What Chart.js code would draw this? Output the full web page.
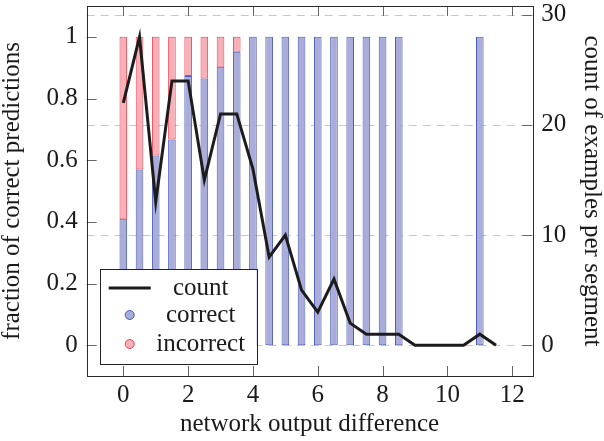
<!DOCTYPE html>
<html>
<head>
<meta charset="utf-8">
<script src="https://cdn.jsdelivr.net/npm/chart.js@4/dist/chart.umd.min.js"></script>
<style>
  html, body { margin: 0; padding: 0; background: #fff; }
  #wrap { width: 604px; height: 441px; position: relative; }
</style>
</head>
<body>
<div id="wrap"><canvas id="chart"></canvas></div>
<script>
// ── Data ──────────────────────────────────────────────────────
const binX          = [0, 0.5, 1, 1.5, 2, 2.5, 3, 3.5, 4, 4.5, 5, 5.5, 6, 6.5, 7, 7.5, 8, 8.5, 11];
const correctFrac   = [0.41, 0.57, 0.615, 0.667, 0.873, 0.865, 0.903, 0.952, 1, 1, 1, 1, 1, 1, 1, 1, 1, 1, 1];
const incorrectFrac = [0.59, 0.43, 0.385, 0.333, 0.127, 0.135, 0.097, 0.048, 0, 0, 0, 0, 0, 0, 0, 0, 0, 0, 0];

const countX = [0, 0.5, 1, 1.5, 2, 2.5, 3, 3.5, 4, 4.5, 5, 5.5, 6, 6.5, 7, 7.5, 8, 8.5, 9, 9.5, 10, 10.5, 11, 11.5];
const counts = [22, 28, 13, 24, 24, 15, 21, 21, 16, 8, 10, 5, 3, 6, 2, 1, 1, 1, 0, 0, 0, 0, 1, 0];

const xTicks       = [0, 2, 4, 6, 8, 10, 12];
const xTickLabels  = ["0", "2", "4", "6", "8", "10", "12"];
const yTicks       = [0, 0.2, 0.4, 0.6, 0.8, 1];
const yTickLabels  = ["0", "0.2", "0.4", "0.6", "0.8", "1"];
const y1Ticks      = [0, 10, 20, 30];
const y1TickLabels = ["0", "10", "20", "30"];

const legendLabels = ["count", "correct", "incorrect"];

// ── Styles ────────────────────────────────────────────────────
const FONT     = "'Liberation Serif', 'Times New Roman', serif";
const BLUE     = "#4a5cb8", BLUE_FILL = "#aaacd9";
const RED      = "#f04050", RED_FILL  = "#f8b0b8";
const LINE_CLR = "#1c1c1c";
const TICK_LEN = 10;

const pts = (xs, ys) => xs.map((x, i) => ({ x, y: ys[i] })).filter((p) => p.y > 0);

// fixed box sizes so the plot area lands where the reference has it
const fixBox = (size) => (scale) => {
  if (scale.isHorizontal()) scale.height = size; else scale.width = size;
  scale.paddingTop = scale.paddingBottom = scale.paddingLeft = scale.paddingRight = 0;
};
const setTicks = (vals) => (scale) => { scale.ticks = vals.map((v) => ({ value: v })); };

// ── Frame, inward tick marks, dashed grid, legend ─────────────
const framePlugin = {
  id: "frame",
  beforeDatasetsDraw(chart) {
    const { ctx, chartArea: a, scales } = chart;
    ctx.save();
    ctx.strokeStyle = "#c8c8c8";
    ctx.lineWidth = 1;
    ctx.setLineDash([8, 6]);
    y1Ticks.forEach((v) => {
      const y = Math.round(scales.y1.getPixelForValue(v)) + 0.5;
      ctx.beginPath(); ctx.moveTo(a.left, y); ctx.lineTo(a.right, y); ctx.stroke();
    });
    ctx.restore();
  },
  afterDatasetsDraw(chart) {
    const { ctx, chartArea: a, scales } = chart;
    ctx.save();
    ctx.lineWidth = 1;
    ctx.strokeStyle = "#666";
    ctx.beginPath();
    xTicks.forEach((v) => {
      const x = Math.round(scales.x.getPixelForValue(v)) + 0.5;
      ctx.moveTo(x, a.bottom); ctx.lineTo(x, a.bottom - TICK_LEN);
      ctx.moveTo(x, a.top);    ctx.lineTo(x, a.top + TICK_LEN);
    });
    yTicks.forEach((v) => {
      const y = Math.round(scales.y.getPixelForValue(v)) + 0.5;
      ctx.moveTo(a.left, y); ctx.lineTo(a.left + TICK_LEN, y);
    });
    y1Ticks.forEach((v) => {
      const y = Math.round(scales.y1.getPixelForValue(v)) + 0.5;
      ctx.moveTo(a.right, y); ctx.lineTo(a.right - TICK_LEN, y);
    });
    ctx.stroke();
    ctx.strokeStyle = "#2a2a2a";
    ctx.strokeRect(Math.round(a.left) + 0.5, Math.round(a.top) + 0.5,
                   Math.round(a.right - a.left), Math.round(a.bottom - a.top));
    ctx.restore();
  },
  afterDraw(chart) {
    const { ctx, chartArea: a } = chart;
    const bx = a.left + 13, by = a.bottom - 107, bw = 157, bh = 95;
    ctx.save();
    ctx.fillStyle = "#fff";
    ctx.fillRect(bx, by, bw, bh);
    ctx.strokeStyle = "#222";
    ctx.lineWidth = 1;
    ctx.strokeRect(Math.round(bx) + 0.5, Math.round(by) + 0.5, bw, bh);

    const rowY = [by + 19, by + 46, by + 75];
    const symX = bx + 30, txtX = bx + 101;
    // count line sample
    ctx.strokeStyle = LINE_CLR;
    ctx.lineWidth = 3;
    ctx.beginPath(); ctx.moveTo(symX - 21, rowY[0]); ctx.lineTo(symX + 21, rowY[0]); ctx.stroke();
    // circle markers
    [[BLUE_FILL, BLUE], [RED_FILL, RED]].forEach(([fill, stroke], i) => {
      ctx.beginPath();
      ctx.arc(symX, rowY[i + 1], 4.5, 0, Math.PI * 2);
      ctx.fillStyle = fill; ctx.fill();
      ctx.lineWidth = 1; ctx.strokeStyle = stroke; ctx.stroke();
    });
    ctx.fillStyle = "#1a1a1a";
    ctx.font = "25px " + FONT;
    ctx.textAlign = "center";
    ctx.textBaseline = "middle";
    legendLabels.forEach((t, i) => ctx.fillText(t, txtX, rowY[i]));
    ctx.restore();
  },
};

const tickFont = { family: FONT, size: 25, lineHeight: 1.2 };
const titleFont = { family: FONT, size: 25, lineHeight: 1 };

// stacking follows `order`: correct (1) sits at the bottom, incorrect (2) on top
new Chart(document.getElementById("chart"), {
  type: "bar",
  data: {
    datasets: [
      {
        type: "line",
        label: "count",
        data: countX.map((x, i) => ({ x, y: counts[i] })),
        yAxisID: "y1",
        borderColor: LINE_CLR,
        borderWidth: 3,
        borderJoinStyle: "miter",
        pointRadius: 0,
        tension: 0,
        order: 0,
      },
      {
        label: "correct",
        data: pts(binX, correctFrac),
        yAxisID: "y",
        backgroundColor: BLUE_FILL,
        borderColor: BLUE,
        borderWidth: 1,
        borderSkipped: false,
        barPercentage: 0.47,
        categoryPercentage: 1,
        stack: "frac",
        order: 1,
      },
      {
        label: "incorrect",
        data: pts(binX, incorrectFrac),
        yAxisID: "y",
        backgroundColor: RED_FILL,
        borderColor: RED,
        borderWidth: 1,
        borderSkipped: false,
        barPercentage: 0.47,
        categoryPercentage: 1,
        stack: "frac",
        order: 2,
      },
    ],
  },
  options: {
    responsive: true,
    maintainAspectRatio: false,
    animation: false,
    layout: { padding: { top: 6, left: 0, right: 0, bottom: 0 } },
    plugins: { legend: { display: false }, tooltip: { enabled: false } },
    scales: {
      x: {
        type: "linear",
        min: -1.13,
        max: 12.62,
        offset: false,
        stacked: true,
        afterBuildTicks: setTicks(xTicks),
        afterFit: fixBox(65),
        grid: { display: false, drawTicks: false },
        border: { display: false },
        ticks: {
          font: tickFont, color: "#1a1a1a", padding: 4, maxRotation: 0,
          callback: (v, i) => xTickLabels[i],
        },
        title: {
          display: true, text: "network output difference",
          font: titleFont, color: "#1a1a1a", padding: { top: 0, bottom: 4 },
        },
      },
      y: {
        position: "left",
        min: -0.1,
        max: 1.1,
        stacked: true,
        afterBuildTicks: setTicks(yTicks),
        afterFit: fixBox(86.7),
        grid: { display: false, drawTicks: false },
        border: { display: false },
        ticks: {
          font: tickFont, color: "#1a1a1a", padding: 9,
          callback: (v, i) => yTickLabels[i],
        },
        title: {
          display: true, text: "fraction of correct predictions",
          font: titleFont, color: "#1a1a1a", padding: { top: 0, bottom: 0 },
        },
      },
      y1: {
        position: "right",
        min: -2.8,
        max: 30.8,
        afterBuildTicks: setTicks(y1Ticks),
        afterFit: fixBox(71.7),
        grid: { display: false, drawTicks: false },
        border: { display: false },
        ticks: {
          font: tickFont, color: "#1a1a1a", padding: 9,
          callback: (v, i) => y1TickLabels[i],
        },
        title: {
          display: true, text: "count of examples per segment",
          font: titleFont, color: "#1a1a1a", padding: { top: 0, bottom: 0 },
        },
      },
    },
  },
  plugins: [framePlugin],
});
</script>
</body>
</html>
